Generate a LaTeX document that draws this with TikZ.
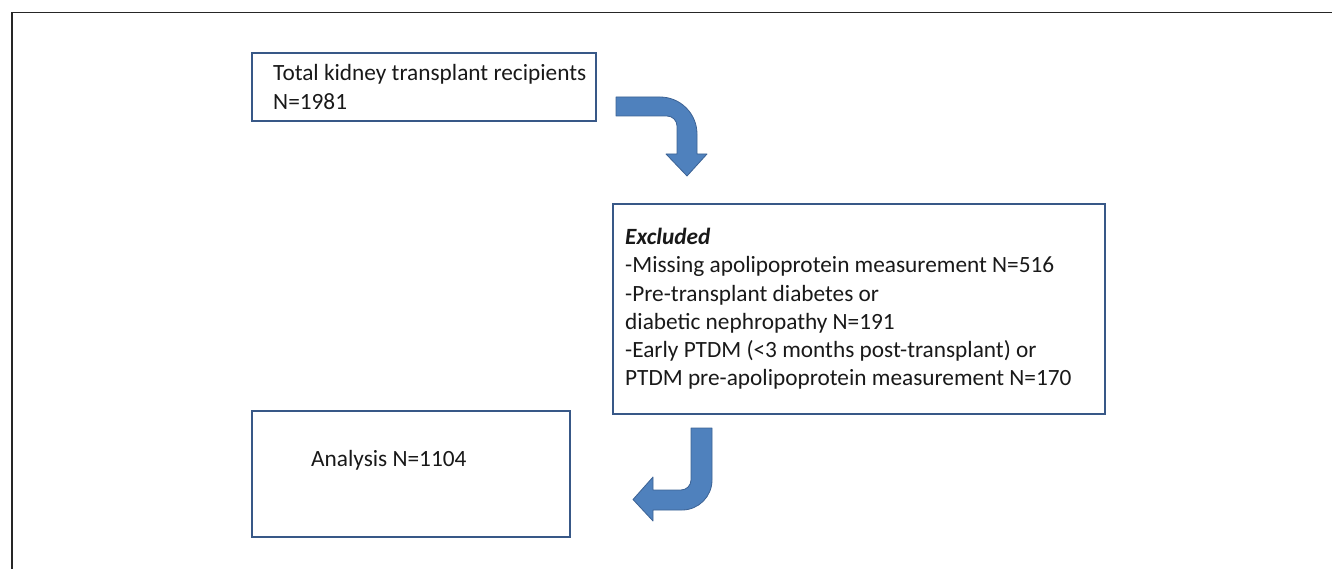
\documentclass[tikz,border=0pt]{standalone}
\usepackage{fontspec}
\setmainfont{Carlito}
\definecolor{boxline}{RGB}{56,88,135}
\definecolor{arrfill}{RGB}{79,129,189}
\definecolor{arrline}{RGB}{60,98,148}
\definecolor{txtcol}{RGB}{25,25,25}
\tikzset{
  flowbox/.style={draw=boxline, line width=2pt, rectangle, inner sep=0pt},
  flowtxt/.style={text=txtcol, align=left, inner sep=0pt, font=\fontsize{23.3}{28.2}\selectfont},
  bentarrow/.style={fill=arrfill, draw=arrline, line width=0.8pt, line join=round},
  framerule/.style={draw=black!85, line width=1.4pt}
}
\begin{document}
\begin{tikzpicture}[x=1pt,y=-1pt]
\useasboundingbox (0,0) rectangle (1332,569);
% outer frame (top and left edges)
\draw[framerule] (12,569) -- (12,12.5) -- (1332,12.5);
% boxes
\node[flowbox, minimum width=344pt, minimum height=68pt] (total) at (424,87) {};
\node[flowtxt, anchor=west, font=\fontsize{23.3}{29}\selectfont] (totaltxt) at ([xshift=22pt]total.west) {Total kidney transplant recipients\\N=1981};
\node[flowbox, minimum width=492pt, minimum height=210pt] (excl) at (859,309) {};
\node[flowtxt, anchor=west] (excltxt) at ([xshift=13pt]excl.west) {\textbf{\textit{Excluded}}\\-Missing apolipoprotein measurement N=516\\-Pre-transplant diabetes or\\diabetic nephropathy N=191\\-Early PTDM (<3 months post-transplant) or\\PTDM pre-apolipoprotein measurement N=170};
\node[flowbox, minimum width=318pt, minimum height=126pt] (anal) at (411,474) {};
\node[flowtxt, anchor=west] (analtxt) at (311,460) {Analysis N=1104};
% bent arrow 1 (right then down)
\draw[bentarrow] (616,97) -- (660,97)
  .. controls (680.4,97) and (697,113.6) .. (697,134)
  -- (697,154) -- (707,154) -- (687,176) -- (666,154) -- (677,154)
  -- (677,126) .. controls (677,120.5) and (672.5,116) .. (667,116)
  -- (616,116) -- cycle;
% bent arrow 2 (down then left)
\draw[bentarrow] (691,428) -- (712,428) -- (712,480)
  .. controls (712,496.6) and (698.6,510) .. (682,510)
  -- (653,510) -- (653,521) -- (633,499.5) -- (653,477) -- (653,490)
  -- (681,490) .. controls (686.5,490) and (691,485.5) .. (691,480)
  -- cycle;
\end{tikzpicture}
\end{document}
